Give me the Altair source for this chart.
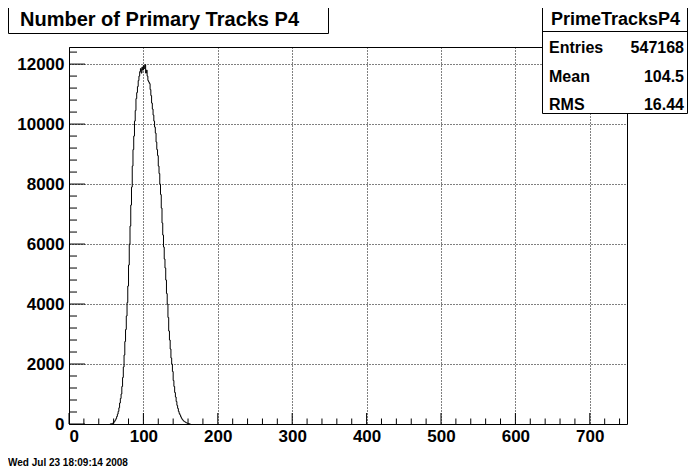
import altair as alt
import pandas as pd

# ---- data ----
bin_start = list(range(55, 164))
counts = [
    0, 5, 10, 20, 35, 60, 90, 130, 180, 250,            # 55-64
    330, 420, 540, 700, 850, 1000, 1250, 1550, 1900, 2300,  # 65-74
    2750, 3150, 3600, 4050, 4600, 5300, 6000, 6600, 7300, 7900,  # 75-84
    8600, 9150, 9600, 10100, 10450, 10850, 11050, 11250, 11450, 11600,  # 85-94
    11750, 11850, 11700, 11900, 11800, 11950, 11850, 11980, 11700, 11800,  # 95-104
    11600, 11450, 11400, 11350, 11150, 10950, 10700, 10500, 10300, 10100,  # 105-114
    9900, 9700, 9400, 9150, 8950, 8600, 8350, 8000, 7650, 7200,  # 115-124
    6700, 6300, 5900, 5500, 5200, 4800, 4350, 4000, 3550, 3100,  # 125-134
    2800, 2500, 2200, 2000, 1750, 1450, 1250, 1050, 900, 750,  # 135-144
    620, 520, 420, 350, 300, 240, 190, 150, 120, 95,  # 145-154
    80, 60, 45, 35, 25, 15, 10, 5, 0,  # 155-163
]

x_ticks = [0, 100, 200, 300, 400, 500, 600, 700]
y_ticks = [0, 2000, 4000, 6000, 8000, 10000, 12000]
x_minor = [v for v in range(0, 751, 20) if v % 100 != 0]
y_minor = [v for v in range(0, 12570, 400) if v % 2000 != 0]

title_text = "Number of Primary Tracks P4"
stats_name = "PrimeTracksP4"
stats_labels = ["Entries", "Mean", "RMS"]
stats_values = ["547168", "104.5", "16.44"]
date_text = "Wed Jul 23 18:09:14 2008"

W, H = 558, 377
FONT = "Liberation Sans"

xs = alt.Scale(domain=[0, 750], nice=False, zero=False)
ys = alt.Scale(domain=[0, 12570], nice=False, zero=True)
x_axis = alt.Axis(values=x_ticks, format="d", labelPadding=4, title=None)
y_axis = alt.Axis(values=y_ticks, format="d", labelPadding=5, title=None)

hist_df = pd.DataFrame({"x": bin_start, "n": counts})

hist = alt.Chart(hist_df).mark_line(
    interpolate="step-after", color="black", strokeWidth=1
).encode(
    x=alt.X("x:Q", scale=xs, axis=x_axis),
    y=alt.Y("n:Q", scale=ys, axis=y_axis),
)

xmaj = alt.Chart(pd.DataFrame({"x": x_ticks})).mark_rule(color="black").encode(
    x=alt.X("x:Q", scale=xs, axis=x_axis), y=alt.value(H), y2=alt.value(H - 11))
xmin = alt.Chart(pd.DataFrame({"x": x_minor})).mark_rule(color="black").encode(
    x=alt.X("x:Q", scale=xs, axis=x_axis), y=alt.value(H), y2=alt.value(H - 5.5))
ymaj = alt.Chart(pd.DataFrame({"n": y_ticks})).mark_rule(color="black").encode(
    y=alt.Y("n:Q", scale=ys, axis=y_axis), x=alt.value(0), x2=alt.value(16))
ymin = alt.Chart(pd.DataFrame({"n": y_minor})).mark_rule(color="black").encode(
    y=alt.Y("n:Q", scale=ys, axis=y_axis), x=alt.value(0), x2=alt.value(8))

one = pd.DataFrame({"a": [0]})

title_box = alt.Chart(one).mark_rect(fill="white", stroke="black", strokeWidth=1).encode(
    x=alt.value(-60.5), x2=alt.value(259.5), y=alt.value(-43.5), y2=alt.value(-13.5))
title_lbl = alt.Chart(one).mark_text(
    align="left", baseline="alphabetic", font=FONT, fontWeight="bold", fontSize=20, color="black"
).encode(x=alt.value(-49), y=alt.value(-21), text=alt.value(title_text))

stats_box = alt.Chart(one).mark_rect(fill="white", stroke="black", strokeWidth=1).encode(
    x=alt.value(473.5), x2=alt.value(618.5), y=alt.value(-45.5), y2=alt.value(66.5))
stats_sep = alt.Chart(one).mark_rule(color="black").encode(
    x=alt.value(473.5), x2=alt.value(618.5), y=alt.value(-15.5))
stats_title = alt.Chart(one).mark_text(
    align="center", baseline="alphabetic", font=FONT, fontWeight="bold", fontSize=18, color="black"
).encode(x=alt.value(546.5), y=alt.value(-22), text=alt.value(stats_name))

row_y = [6, 35, 63]
stats_layers = []
for lab, val, yy in zip(stats_labels, stats_values, row_y):
    stats_layers.append(alt.Chart(one).mark_text(
        align="left", baseline="alphabetic", font=FONT, fontWeight="bold", fontSize=16, color="black"
    ).encode(x=alt.value(480), y=alt.value(yy), text=alt.value(lab)))
    stats_layers.append(alt.Chart(one).mark_text(
        align="right", baseline="alphabetic", font=FONT, fontWeight="bold", fontSize=16, color="black"
    ).encode(x=alt.value(615), y=alt.value(yy), text=alt.value(val)))

date_lbl = alt.Chart(one).mark_text(
    align="left", baseline="alphabetic", font=FONT, fontWeight="bold", fontSize=10, color="black"
).encode(x=alt.value(-61), y=alt.value(419), text=alt.value(date_text))

chart = alt.layer(
    hist, xmaj, xmin, ymaj, ymin,
    title_box, title_lbl,
    stats_box, stats_sep, stats_title, *stats_layers,
    date_lbl,
).properties(
    width=W, height=H,
    autosize=alt.AutoSizeParams(type="none"),
    padding={"left": 61, "top": 39, "right": 61, "bottom": 48},
    background="white",
).configure_view(
    stroke="black", strokeWidth=1
).configure_axis(
    labelFont=FONT, labelFontWeight="bold", labelFontSize=17, labelColor="black",
    tickSize=0, domain=False,
    grid=True, gridColor="black", gridDash=[1, 2], gridWidth=1, gridOpacity=1,
)

chart.save("out.html", embed_options={"renderer": "svg", "actions": False})
